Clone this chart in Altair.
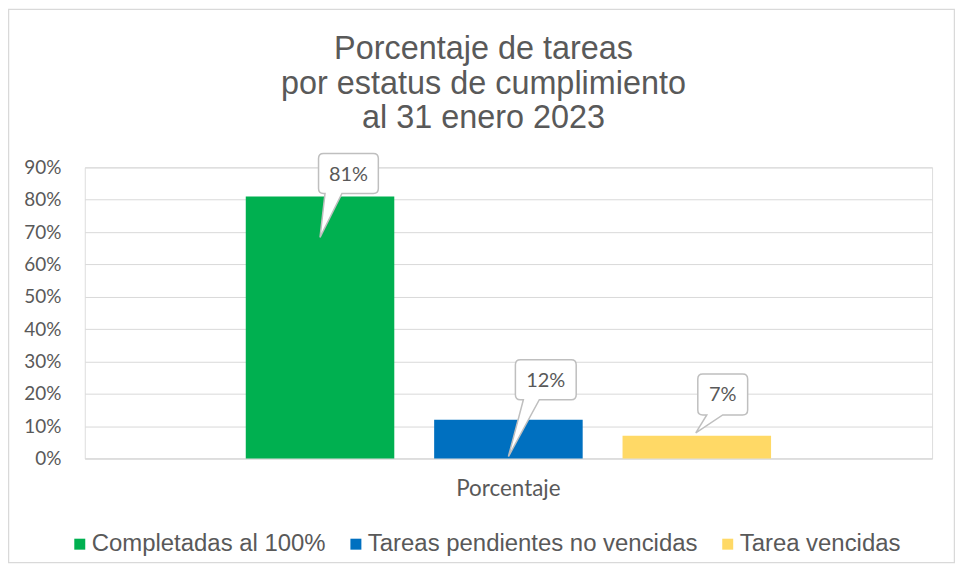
import altair as alt
import pandas as pd

# ---- data -------------------------------------------------------------
categoria = ["Porcentaje", "Porcentaje", "Porcentaje"]
series = ["Completadas al 100%", "Tareas pendientes no vencidas", "Tarea vencidas"]
valores = [0.81, 0.12, 0.07]
etiquetas = ["81%", "12%", "7%"]
y_ticks = [0.0, 0.1, 0.2, 0.3, 0.4, 0.5, 0.6, 0.7, 0.8, 0.9]
titulo = ["Porcentaje de tareas", "por estatus de cumplimiento", "al 31 enero 2023"]

# ---- style ------------------------------------------------------------
colores = ["#00B050", "#0070C0", "#FFD966"]
GRIS_TEXTO = "#595959"
GRIS_LINEA = "#d9d9d9"

# callout geometry (pixels, relative to the top centre of each bar)
callout_geom = [
    dict(x0=-1.5, x1=58.5, y0=-43, y1=-3, b0=5, b1=22, tx=0, ty=41),
    dict(x0=7, x1=68, y0=-60, y1=-20, b0=15, b1=31, tx=0, ty=37),
    dict(x0=1, x1=51, y0=-62, y1=-21, b0=10, b1=26, tx=-1, ty=-3),
]


def callout_path(g, r=5):
    x0, x1, y0, y1 = g["x0"], g["x1"], g["y0"], g["y1"]
    b0, b1, tx, ty = g["b0"], g["b1"], g["tx"], g["ty"]
    return (
        f"M{x0 + r},{y0} L{x1 - r},{y0} Q{x1},{y0} {x1},{y0 + r} "
        f"L{x1},{y1 - r} Q{x1},{y1} {x1 - r},{y1} "
        f"L{b1},{y1} L{tx},{ty} L{b0},{y1} "
        f"L{x0 + r},{y1} Q{x0},{y1} {x0},{y1 - r} "
        f"L{x0},{y0 + r} Q{x0},{y0} {x0 + r},{y0} Z"
    )


df = pd.DataFrame({"cat": categoria, "serie": series, "valor": valores, "etiqueta": etiquetas})

x_enc = alt.X(
    "cat:N",
    scale=alt.Scale(paddingInner=0, paddingOuter=0.3065),
    axis=alt.Axis(
        title=None, labelAngle=0, ticks=False, domain=True, domainColor=GRIS_LINEA,
        labelFont="Lato", labelFontSize=22.5, labelColor=GRIS_TEXTO, labelPadding=19,
        grid=False,
    ),
)
xoff_enc = alt.XOffset(
    "serie:N", sort=series, scale=alt.Scale(paddingInner=0.2116, paddingOuter=0)
)
y_enc = alt.Y(
    "valor:Q",
    scale=alt.Scale(domain=[0, 0.9]),
    axis=alt.Axis(
        values=y_ticks, format=".0%", title=None, domain=False, ticks=False,
        labelPadding=24, labelFont="Lato", labelFontSize=19, labelColor=GRIS_TEXTO,
        gridColor=GRIS_LINEA, gridWidth=1,
    ),
)

base = alt.Chart(df)

bars = base.mark_bar().encode(
    x=x_enc,
    xOffset=xoff_enc,
    y=y_enc,
    color=alt.Color(
        "serie:N",
        sort=series,
        scale=alt.Scale(domain=series, range=colores),
        legend=alt.Legend(
            title=None, orient="none", direction="horizontal",
            legendX=-17, legendY=366,
            symbolType="square", symbolSize=121, symbolStrokeWidth=0,
            labelFont="Liberation Sans", labelFontSize=24, labelColor=GRIS_TEXTO,
            labelLimit=500, columnPadding=18, labelOffset=0,
        ),
    ),
)

layers = []
for s, g in zip(series, callout_geom):
    sub = base.transform_filter(alt.datum.serie == s)
    box = sub.mark_point(
        shape=callout_path(g), size=4, filled=True, fill="white",
        stroke="#bfbfbf", strokeWidth=1.5, opacity=1,
    ).encode(x=x_enc, xOffset=xoff_enc, y=y_enc)
    txt = sub.mark_text(
        font="Lato", fontSize=20, color=GRIS_TEXTO, align="center", baseline="middle",
        dx=(g["x0"] + g["x1"]) / 2, dy=(g["y0"] + g["y1"]) / 2 + 1,
    ).encode(x=x_enc, xOffset=xoff_enc, y=y_enc, text="etiqueta:N")
    layers += [box, txt]

borde = alt.Chart(pd.DataFrame({"k": [0]})).mark_rect(
    fillOpacity=0, stroke=GRIS_LINEA, strokeWidth=1.5
).encode(
    x=alt.value(-76.5), x2=alt.value(872.5), y=alt.value(-158.5), y2=alt.value(396.5)
)

chart = alt.layer(borde, bars, *layers).properties(
    width=850,
    height=292,
    autosize=alt.AutoSizeParams(type="none"),
    padding={"left": 77, "top": 159, "right": 23, "bottom": 105},
    title=alt.TitleParams(
        text=titulo, anchor="middle", frame="group", dx=-25,
        fontSize=32.5, font="Liberation Sans", color=GRIS_TEXTO, fontWeight="normal",
        lineHeight=34.5, offset=-126.5,
    ),
).configure_view(stroke=None).configure(background="white")

chart.save("out.html", embed_options={"renderer": "svg", "actions": False})
